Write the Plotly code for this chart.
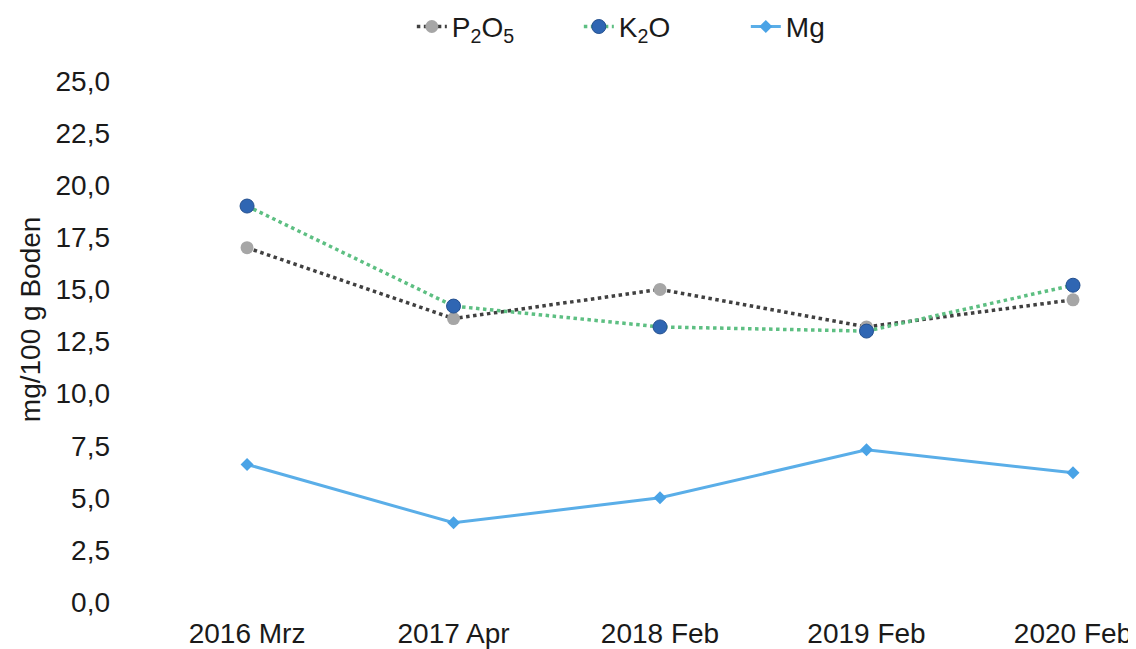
import plotly.graph_objects as go

categories = ["2016 Mrz", "2017 Apr", "2018 Feb", "2019 Feb", "2020 Feb"]
p2o5 = [17.0, 13.6, 15.0, 13.2, 14.5]
k2o = [19.0, 14.2, 13.2, 13.0, 15.2]
mg = [6.6, 3.8, 5.0, 7.3, 6.2]
y_ticks = [0, 2.5, 5, 7.5, 10, 12.5, 15, 17.5, 20, 22.5, 25]
y_title = "mg/100 g Boden"

xs = list(range(len(categories)))
font = "Liberation Sans, Arial, sans-serif"

fig = go.Figure()
fig.add_trace(go.Scatter(
    x=xs, y=p2o5, name="P<sub>2</sub>O<sub>5</sub>", mode="lines+markers",
    line=dict(color="#404040", width=3.5, dash="dot"),
    marker=dict(symbol="circle", size=13, color="#a6a6a6"),
))
fig.add_trace(go.Scatter(
    x=xs, y=k2o, name="K<sub>2</sub>O", mode="lines+markers",
    line=dict(color="#5dbf82", width=3.5, dash="dot"),
    marker=dict(symbol="circle", size=14, color="#2f66b3",
                line=dict(color="#24508f", width=1)),
))
fig.add_trace(go.Scatter(
    x=xs, y=mg, name="Mg", mode="lines+markers",
    line=dict(color="#5aaee8", width=3),
    marker=dict(symbol="diamond", size=10, color="#4aa3e6"),
))

fig.update_layout(
    width=1128, height=641,
    paper_bgcolor="white", plot_bgcolor="white",
    separators=", ",
    font=dict(family=font, size=28, color="#1a1a1a"),
    margin=dict(l=142, r=6, t=73, b=47, autoexpand=False),
    showlegend=True,
    legend=dict(orientation="h", xref="container", x=0.358, xanchor="left",
                yref="paper", y=1.104, yanchor="middle",
                font=dict(size=28), entrywidth=122, entrywidthmode="pixels",
                traceorder="normal"),
    xaxis=dict(
        tickmode="array", tickvals=xs, ticktext=categories,
        range=[-0.47, 4.276], showgrid=False, zeroline=False, showline=False,
        ticks="", ticklabelstandoff=12, tickfont=dict(size=28),
    ),
    yaxis=dict(
        range=[0, 25], tickvals=y_ticks, tickformat=".1f",
        showgrid=False, zeroline=False, showline=False, ticks="",
        ticklabelstandoff=39, tickfont=dict(size=28),
    ),
    annotations=[dict(
        text=y_title, textangle=-90, showarrow=False,
        xref="paper", yref="paper", x=-0.1224, y=0.543,
        xanchor="center", yanchor="middle", font=dict(size=28),
    )],
)

fig.write_html("out.html")
